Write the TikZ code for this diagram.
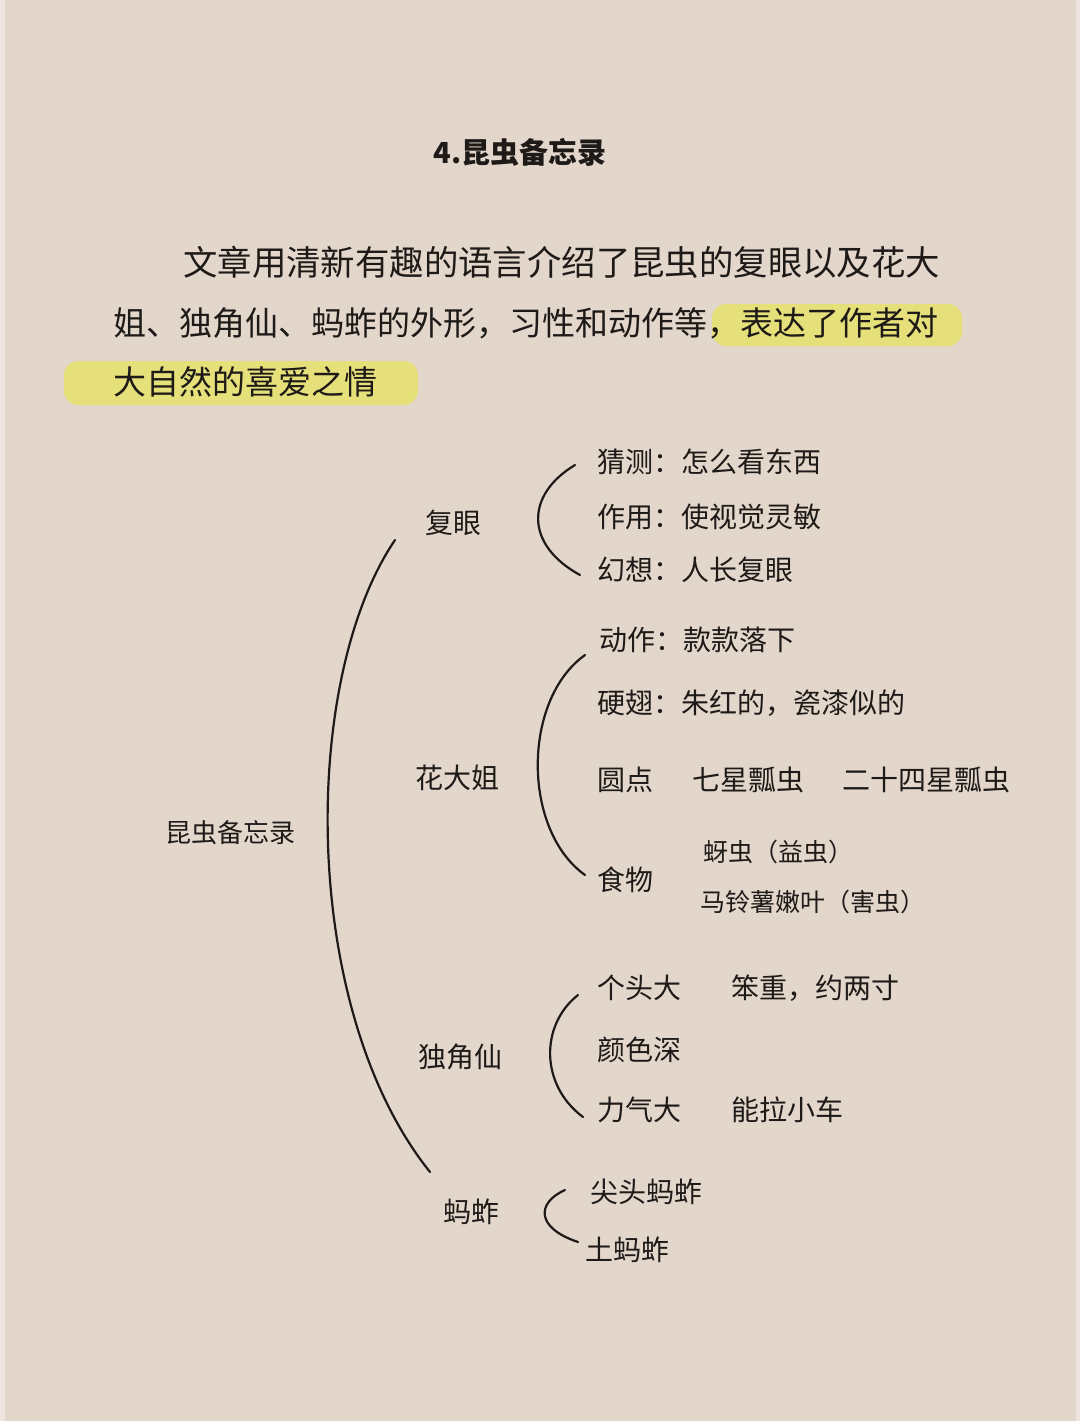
\documentclass[tikz,border=0pt]{standalone}
\usepackage{fontspec}
\setmainfont{Noto Sans CJK SC}
\definecolor{bgc}{HTML}{E3D6CB}
\definecolor{edge}{HTML}{EDE5DE}
\definecolor{hl}{HTML}{E6E07A}
\definecolor{ink}{HTML}{1E1A18}
\begin{document}
\begin{tikzpicture}[x=1pt,y=-1pt,
  txt/.style={anchor=west,inner sep=0pt,text=ink,font=\fontsize{28}{32}\selectfont},
  small/.style={anchor=west,inner sep=0pt,text=ink,font=\fontsize{25}{30}\selectfont},
  para/.style={anchor=west,inner sep=0pt,text=ink,font=\fontsize{33}{38}\selectfont},
  brk/.style={draw=ink,line width=2.2pt,line cap=round}]
\fill[bgc] (0,0) rectangle (1080,1421);
\fill[edge] (0,0) rectangle (5,1421);
\fill[edge] (1076,0) rectangle (1080,1421);
\useasboundingbox (0,0) rectangle (1080,1421);
% highlights
\fill[hl,rounded corners=14pt] (712,304) rectangle (962,346);
\fill[hl,rounded corners=14pt] (64,361) rectangle (418,405);
% title
\node[txt,anchor=center,font=\fontsize{29}{34}\selectfont\bfseries] (title) at (520,152) {4.昆虫备忘录};
% paragraph
\node[para,font=\fontsize{34.4}{38}\selectfont] (p1) at (183,262) {文章用清新有趣的语言介绍了昆虫的复眼以及花大};
\node[para] (p2) at (113,323) {姐、独角仙、蚂蚱的外形，习性和动作等，表达了作者对};
\node[para] (p3) at (113,382) {大自然的喜爱之情};
% root
\node[txt,font=\fontsize{26}{30}\selectfont] (root) at (165,833) {昆虫备忘录};
% branch nodes
\node[txt] (fy) at (425,523) {复眼};
\node[txt] (hdj) at (415,778) {花大姐};
\node[txt] (djx) at (418,1057) {独角仙};
\node[txt] (mz) at (443,1212) {蚂蚱};
% big arc
\coordinate (bt) at (395,540);
\coordinate (bb) at (430,1172);
\draw[brk] (bt) .. controls (300,680) and (300,1010) .. (bb);
% 复眼
\node[txt] (fy1) at (597,462) {猜测：怎么看东西};
\node[txt] (fy2) at (597,517) {作用：使视觉灵敏};
\node[txt] (fy3) at (597,570) {幻想：人长复眼};
\coordinate (fyt) at (575,465);
\coordinate (fyb) at (580,575);
\draw[brk] (fyt) .. controls (525,495) and (525,545) .. (fyb);
% 花大姐
\node[txt] (h1) at (599,640) {动作：款款落下};
\node[txt] (h2) at (597,703) {硬翅：朱红的，瓷漆似的};
\node[txt] (h3) at (597,780) {圆点};
\node[txt] (h3a) at (692,780) {七星瓢虫};
\node[txt] (h3b) at (842,780) {二十四星瓢虫};
\node[txt] (h4) at (597,880) {食物};
\node[small] (h4a) at (703,852) {蚜虫（益虫）};
\node[small] (h4b) at (700,902) {马铃薯嫩叶（害虫）};
\coordinate (ht) at (585,655);
\coordinate (hb) at (585,875);
\draw[brk] (ht) .. controls (522,700) and (522,830) .. (hb);
% 独角仙
\node[txt] (d1) at (597,988) {个头大};
\node[txt] (d1a) at (731,988) {笨重，约两寸};
\node[txt] (d2) at (597,1050) {颜色深};
\node[txt] (d3) at (597,1110) {力气大};
\node[txt] (d3a) at (731,1110) {能拉小车};
\coordinate (dt) at (578,995);
\coordinate (db) at (583,1117);
\draw[brk] (dt) .. controls (540,1025) and (540,1085) .. (db);
% 蚂蚱
\node[txt] (m1) at (590,1192) {尖头蚂蚱};
\node[txt] (m2) at (585,1250) {土蚂蚱};
\coordinate (mt) at (565,1190);
\coordinate (mb) at (578,1242);
\draw[brk] (mt) .. controls (536,1203) and (536,1228) .. (mb);
\end{tikzpicture}
\end{document}
